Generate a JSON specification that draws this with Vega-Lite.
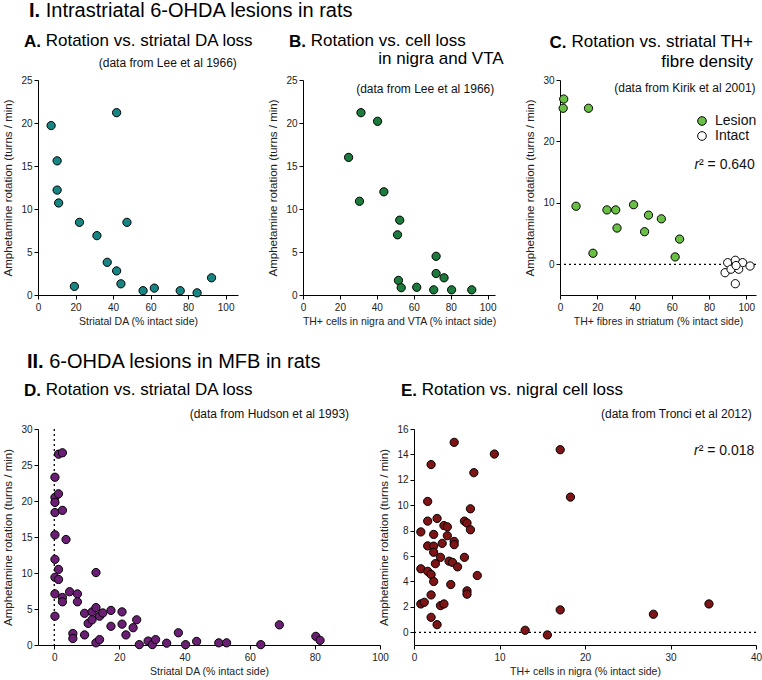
{
"$schema": "https://vega.github.io/schema/vega-lite/v6.json",
"padding": {"left": 2, "top": 0, "right": 2, "bottom": 2},
"background": "white",
"spacing": 24,
"config": {
 "font": "Liberation Sans",
 "view": {"stroke": null},
 "title": {"font": "Liberation Sans", "fontWeight": "normal", "color": "#000", "anchor": "start", "frame": "group"},
 "axis": {"domainColor": "#000", "tickColor": "#000", "tickSize": 4, "labelFontSize": 10, "labelColor": "#222", "titleColor": "#222", "titleFontWeight": "normal", "grid": false, "labelPadding": 2, "titlePadding": 4, "labelFont": "Liberation Sans", "titleFont": "Liberation Sans", "labelOverlap": false, "labelFlush": false},
 "axisX": {"titleFontSize": 10.5, "labelPadding": 3},
 "axisY": {"titleFontSize": 11.5, "titlePadding": 7},
 "text": {"font": "Liberation Sans", "color": "#111"}
},
"vconcat": [
 {
  "title": {"text": "Intrastriatal 6-OHDA lesions in rats", "fontSize": 20, "dx": 7.7, "offset": -20},
  "bounds": "flush",
  "spacing": 65,
  "resolve": {"legend": {"fill": "independent"}},
  "hconcat": [
   {
    "width": 200, "height": 215,
    "title": {"text": "Rotation vs. striatal DA loss", "fontSize": 17, "dx": 7.7, "offset": -49.4},
    "layer": [
     {
      "data": {"values": [
       {"x": 7, "y": 19.7}, {"x": 10.2, "y": 15.6}, {"x": 10.2, "y": 12.2}, {"x": 11, "y": 10.7},
       {"x": 22.1, "y": 8.45}, {"x": 31.4, "y": 6.9}, {"x": 36.9, "y": 3.8}, {"x": 41.9, "y": 21.2},
       {"x": 41.9, "y": 2.8}, {"x": 44.2, "y": 1.3}, {"x": 47.4, "y": 8.45}, {"x": 19.4, "y": 1.0},
       {"x": 56, "y": 0.5}, {"x": 62, "y": 0.8}, {"x": 75.8, "y": 0.5}, {"x": 84.8, "y": 0.25}, {"x": 92.5, "y": 2.0}
      ]},
      "mark": {"type": "circle", "size": 68, "fill": "#178583", "stroke": "#000", "strokeWidth": 1, "opacity": 1},
      "encoding": {
       "x": {"field": "x", "type": "quantitative", "scale": {"domain": [0, 106.6], "nice": false, "zero": false}, "axis": {"title": "Striatal DA (% intact side)", "values": [0, 20, 40, 60, 80, 100], "labelOverlap": false}},
       "y": {"field": "y", "type": "quantitative", "scale": {"domain": [0, 25], "nice": false}, "axis": {"title": "Amphetamine rotation (turns / min)", "values": [0, 5, 10, 15, 20, 25], "labelOverlap": false}}
      }
     },
     {
      "data": {"values": [{}]},
      "mark": {"type": "text", "text": "(data from Lee et al 1966)", "fontSize": 12, "align": "right", "baseline": "middle"},
      "encoding": {
       "x": {"datum": 106, "type": "quantitative", "axis": {"title": "Striatal DA (% intact side)", "values": [0, 20, 40, 60, 80, 100], "labelOverlap": false}},
       "y": {"datum": 27, "type": "quantitative", "axis": {"title": "Amphetamine rotation (turns / min)", "values": [0, 5, 10, 15, 20, 25], "labelOverlap": false}}
      }
     },
     {
      "data": {"values": [{}]},
      "mark": {"type": "text", "text": "I.", "fontSize": 20, "fontWeight": "bold", "align": "left", "baseline": "alphabetic", "color": "#000"},
      "encoding": {
       "x": {"datum": -4.8, "type": "quantitative", "axis": {"title": "Striatal DA (% intact side)", "values": [0, 20, 40, 60, 80, 100], "labelOverlap": false}},
       "y": {"datum": 32.33, "type": "quantitative", "axis": {"title": "Amphetamine rotation (turns / min)", "values": [0, 5, 10, 15, 20, 25], "labelOverlap": false}}
      }
     },
     {
      "data": {"values": [{}]},
      "mark": {"type": "text", "text": "A.", "fontSize": 17, "fontWeight": "bold", "align": "left", "baseline": "alphabetic", "color": "#000"},
      "encoding": {
       "x": {"datum": -7.46, "type": "quantitative", "axis": {"title": "Striatal DA (% intact side)", "values": [0, 20, 40, 60, 80, 100], "labelOverlap": false}},
       "y": {"datum": 28.84, "type": "quantitative", "axis": {"title": "Amphetamine rotation (turns / min)", "values": [0, 5, 10, 15, 20, 25], "labelOverlap": false}}
      }
     }
    ]
   },
   {
    "width": 192, "height": 215,
    "title": {"text": "Rotation vs. cell loss", "fontSize": 17, "dx": 7.7, "offset": -17},
    "layer": [
     {
      "data": {"values": [
       {"x": 31.4, "y": 21.2}, {"x": 40.4, "y": 20.2}, {"x": 24.7, "y": 16}, {"x": 30.6, "y": 10.9},
       {"x": 43.8, "y": 12}, {"x": 52.4, "y": 8.7}, {"x": 51.2, "y": 7}, {"x": 72.1, "y": 4.5},
       {"x": 72.1, "y": 2.5}, {"x": 76.4, "y": 2}, {"x": 51.7, "y": 1.7}, {"x": 53.2, "y": 0.85},
       {"x": 61.6, "y": 0.9}, {"x": 70.8, "y": 0.6}, {"x": 80.5, "y": 0.6}, {"x": 91.4, "y": 0.6}
      ]},
      "mark": {"type": "circle", "size": 68, "fill": "#1b7a3c", "stroke": "#000", "strokeWidth": 1, "opacity": 1},
      "encoding": {
       "x": {"field": "x", "type": "quantitative", "scale": {"domain": [0, 104], "nice": false, "zero": false}, "axis": {"title": "TH+ cells in nigra and VTA (% intact side)", "values": [0, 20, 40, 60, 80, 100], "labelOverlap": false}},
       "y": {"field": "y", "type": "quantitative", "scale": {"domain": [0, 25], "nice": false}, "axis": {"title": "Amphetamine rotation (turns / min)", "values": [0, 5, 10, 15, 20, 25], "labelOverlap": false}}
      }
     },
     {
      "data": {"values": [{}]},
      "mark": {"type": "text", "text": "in nigra and VTA", "fontSize": 17, "align": "right", "baseline": "middle", "color": "#000"},
      "encoding": {
       "x": {"datum": 108.7, "type": "quantitative", "axis": {"title": "TH+ cells in nigra and VTA (% intact side)", "values": [0, 20, 40, 60, 80, 100], "labelOverlap": false}},
       "y": {"datum": 27.5, "type": "quantitative", "axis": {"title": "Amphetamine rotation (turns / min)", "values": [0, 5, 10, 15, 20, 25], "labelOverlap": false}}
      }
     },
     {
      "data": {"values": [{}]},
      "mark": {"type": "text", "text": "(data from Lee et al 1966)", "fontSize": 12, "align": "right", "baseline": "middle"},
      "encoding": {
       "x": {"datum": 103.6, "type": "quantitative", "axis": {"title": "TH+ cells in nigra and VTA (% intact side)", "values": [0, 20, 40, 60, 80, 100], "labelOverlap": false}},
       "y": {"datum": 23.9, "type": "quantitative", "axis": {"title": "Amphetamine rotation (turns / min)", "values": [0, 5, 10, 15, 20, 25], "labelOverlap": false}}
      }
     },
     {
      "data": {"values": [{}]},
      "mark": {"type": "text", "text": "B.", "fontSize": 17, "fontWeight": "bold", "align": "left", "baseline": "alphabetic", "color": "#000"},
      "encoding": {
       "x": {"datum": -7.58, "type": "quantitative", "axis": {"title": "TH+ cells in nigra and VTA (% intact side)", "values": [0, 20, 40, 60, 80, 100], "labelOverlap": false}},
       "y": {"datum": 28.84, "type": "quantitative", "axis": {"title": "Amphetamine rotation (turns / min)", "values": [0, 5, 10, 15, 20, 25], "labelOverlap": false}}
      }
     }
    ]
   },
   {
    "width": 196, "height": 215,
    "title": {"text": ["Rotation vs. striatal TH+", "fibre density"], "fontSize": 17, "anchor": "end", "align": "right", "lineHeight": 20, "dx": -3, "offset": -37.7},
    "layer": [
     {
      "data": {"values": [{}]},
      "mark": {"type": "rule", "strokeDash": [2, 3], "color": "#000", "strokeWidth": 1.3},
      "encoding": {
       "y": {"datum": 0, "type": "quantitative", "axis": {"title": "Amphetamine rotation (turns / min)", "values": [0, 10, 20, 30], "labelOverlap": false}}
      }
     },
     {
      "data": {"values": [
       {"x": 2, "y": 26.9, "group": "Lesion"}, {"x": 1.7, "y": 25.4, "group": "Lesion"}, {"x": 15.3, "y": 25.4, "group": "Lesion"},
       {"x": 8.6, "y": 9.45, "group": "Lesion"}, {"x": 17.7, "y": 1.8, "group": "Lesion"}, {"x": 25.2, "y": 8.85, "group": "Lesion"},
       {"x": 29.9, "y": 8.85, "group": "Lesion"}, {"x": 30.6, "y": 5.9, "group": "Lesion"}, {"x": 39.5, "y": 9.7, "group": "Lesion"},
       {"x": 47.5, "y": 8, "group": "Lesion"}, {"x": 45.4, "y": 5.3, "group": "Lesion"}, {"x": 54.4, "y": 7.4, "group": "Lesion"},
       {"x": 64.2, "y": 4.1, "group": "Lesion"}, {"x": 61.8, "y": 1.2, "group": "Lesion"},
       {"x": 90, "y": 0.26, "group": "Intact"}, {"x": 94.1, "y": 0.65, "group": "Intact"}, {"x": 98, "y": 0.26, "group": "Intact"},
       {"x": 102, "y": -0.28, "group": "Intact"}, {"x": 88.6, "y": -1.37, "group": "Intact"}, {"x": 91.8, "y": -0.8, "group": "Intact"},
       {"x": 95.9, "y": -0.8, "group": "Intact"}, {"x": 94.1, "y": -3.16, "group": "Intact"}, {"x": 94.5, "y": -0.2, "group": "Intact"}
      ]},
      "mark": {"type": "circle", "size": 68, "stroke": "#000", "strokeWidth": 1, "opacity": 1},
      "encoding": {
       "x": {"field": "x", "type": "quantitative", "scale": {"domain": [0, 105.2], "nice": false, "zero": false}, "axis": {"title": "TH+ fibres in striatum (% intact side)", "values": [0, 20, 40, 60, 80, 100], "labelOverlap": false}},
       "y": {"field": "y", "type": "quantitative", "scale": {"domain": [-5, 30], "nice": false, "zero": false}, "axis": {"title": "Amphetamine rotation (turns / min)", "values": [0, 10, 20, 30], "labelOverlap": false}},
       "fill": {"field": "group", "type": "nominal", "scale": {"domain": ["Lesion", "Intact"], "range": ["#6abf45", "#ffffff"]},
        "legend": {"title": null, "orient": "none", "legendX": 135, "legendY": 34, "labelFontSize": 14, "labelColor": "#111", "labelFont": "Liberation Sans", "symbolType": "circle", "symbolSize": 75, "symbolStrokeColor": "#000", "symbolStrokeWidth": 1, "symbolOpacity": 1, "rowPadding": 1, "labelOffset": 6}}
      }
     },
     {
      "data": {"values": [{}]},
      "mark": {"type": "text", "text": "(data from Kirik et al 2001)", "fontSize": 12, "align": "right", "baseline": "middle"},
      "encoding": {
       "x": {"datum": 105, "type": "quantitative", "axis": {"title": "TH+ fibres in striatum (% intact side)", "values": [0, 20, 40, 60, 80, 100], "labelOverlap": false}},
       "y": {"datum": 28.7, "type": "quantitative", "axis": {"title": "Amphetamine rotation (turns / min)", "values": [0, 10, 20, 30], "labelOverlap": false}}
      }
     },
     {
      "data": {"values": [{}]},
      "mark": {"type": "text", "text": "² = 0.640", "fontSize": 14, "align": "right", "baseline": "middle"},
      "encoding": {
       "x": {"datum": 104.5, "type": "quantitative", "axis": {"title": "TH+ fibres in striatum (% intact side)", "values": [0, 20, 40, 60, 80, 100], "labelOverlap": false}},
       "y": {"datum": 16.2, "type": "quantitative", "axis": {"title": "Amphetamine rotation (turns / min)", "values": [0, 10, 20, 30], "labelOverlap": false}}
      }
     },
     {
      "data": {"values": [{}]},
      "mark": {"type": "text", "text": "r", "fontSize": 14, "fontStyle": "italic", "align": "right", "baseline": "middle", "dx": -55.5},
      "encoding": {
       "x": {"datum": 104.5, "type": "quantitative", "axis": {"title": "TH+ fibres in striatum (% intact side)", "values": [0, 20, 40, 60, 80, 100], "labelOverlap": false}},
       "y": {"datum": 16.2, "type": "quantitative", "axis": {"title": "Amphetamine rotation (turns / min)", "values": [0, 10, 20, 30], "labelOverlap": false}}
      }
     },
     {
      "data": {"values": [{}]},
      "mark": {"type": "text", "text": "C.", "fontSize": 17, "fontWeight": "bold", "align": "left", "baseline": "alphabetic", "color": "#000"},
      "encoding": {
       "x": {"datum": -5.7, "type": "quantitative", "axis": {"title": "TH+ fibres in striatum (% intact side)", "values": [0, 20, 40, 60, 80, 100], "labelOverlap": false}},
       "y": {"datum": 35.27, "type": "quantitative", "axis": {"title": "Amphetamine rotation (turns / min)", "values": [0, 10, 20, 30], "labelOverlap": false}}
      }
     }
    ]
   }
  ]
 },
 {
  "title": {"text": "6-OHDA lesions in MFB in rats", "fontSize": 20, "dx": 11.2, "offset": -20},
  "bounds": "flush",
  "spacing": 34,
  "hconcat": [
   {
    "width": 342, "height": 216,
    "title": {"text": "Rotation vs. striatal DA loss", "fontSize": 17, "dx": 7.7, "offset": -47.4},
    "layer": [
     {
      "data": {"values": [{}]},
      "mark": {"type": "rule", "strokeDash": [2, 3], "color": "#000", "strokeWidth": 1.3},
      "encoding": {
       "x": {"datum": 0, "type": "quantitative", "axis": {"title": "Striatal DA (% intact side)", "values": [0, 20, 40, 60, 80, 100], "labelOverlap": false}}
      }
     },
     {
      "data": {"values": [
       {"x": 1.3, "y": 26.5}, {"x": 2.5, "y": 26.7}, {"x": 0.2, "y": 23.3}, {"x": 0.2, "y": 20.5}, {"x": 0.2, "y": 19.8},
       {"x": 1.3, "y": 21.0}, {"x": 0.2, "y": 18.4}, {"x": 2.5, "y": 18.7}, {"x": 0.2, "y": 15.3}, {"x": 3.6, "y": 14.65},
       {"x": 0.2, "y": 11.9}, {"x": 1.3, "y": 10.5}, {"x": 0.2, "y": 9.4}, {"x": 1.3, "y": 9.1}, {"x": 12.8, "y": 10.06},
       {"x": 0.2, "y": 7.1}, {"x": 4.7, "y": 7.4}, {"x": 2.5, "y": 6.6}, {"x": 2.5, "y": 6.0}, {"x": 7.1, "y": 7.1},
       {"x": 7.1, "y": 6.0}, {"x": 0.2, "y": 4.0}, {"x": 9.3, "y": 4.4}, {"x": 11.6, "y": 4.6}, {"x": 12.8, "y": 5.2},
       {"x": 10.4, "y": 3.0}, {"x": 11.6, "y": 3.5}, {"x": 13.9, "y": 4.0}, {"x": 14.9, "y": 4.45}, {"x": 17.4, "y": 4.8},
       {"x": 20.8, "y": 4.6}, {"x": 17.4, "y": 2.6}, {"x": 20.8, "y": 2.9}, {"x": 24.2, "y": 2.4}, {"x": 25.3, "y": 3.5},
       {"x": 22.0, "y": 1.4}, {"x": 5.7, "y": 1.6}, {"x": 5.7, "y": 0.9}, {"x": 9.3, "y": 1.4}, {"x": 12.8, "y": 0.3},
       {"x": 13.9, "y": 0.75}, {"x": 26.1, "y": 0.05}, {"x": 28.8, "y": 0.55}, {"x": 30.1, "y": 0.05}, {"x": 31.1, "y": 0.75},
       {"x": 34.5, "y": 0.25}, {"x": 38.1, "y": 1.7}, {"x": 40.3, "y": 0.05}, {"x": 43.7, "y": 0.5}, {"x": 50.5, "y": 0.3},
       {"x": 52.9, "y": 0.3}, {"x": 63.4, "y": 0.05}, {"x": 69.1, "y": 2.8}, {"x": 80.3, "y": 1.2}, {"x": 81.6, "y": 0.65}
      ]},
      "mark": {"type": "circle", "size": 68, "fill": "#6b1f74", "stroke": "#000", "strokeWidth": 1, "opacity": 1},
      "encoding": {
       "x": {"field": "x", "type": "quantitative", "scale": {"domain": [-5, 100], "nice": false, "zero": false}, "axis": {"title": "Striatal DA (% intact side)", "values": [0, 20, 40, 60, 80, 100], "labelOverlap": false}},
       "y": {"field": "y", "type": "quantitative", "scale": {"domain": [0, 30], "nice": false}, "axis": {"title": "Amphetamine rotation (turns / min)", "values": [0, 5, 10, 15, 20, 25, 30], "labelOverlap": false}}
      }
     },
     {
      "data": {"values": [{}]},
      "mark": {"type": "text", "text": "(data from Hudson et al 1993)", "fontSize": 12, "align": "right", "baseline": "middle"},
      "encoding": {
       "x": {"datum": 90.5, "type": "quantitative", "axis": {"title": "Striatal DA (% intact side)", "values": [0, 20, 40, 60, 80, 100], "labelOverlap": false}},
       "y": {"datum": 32.1, "type": "quantitative", "axis": {"title": "Amphetamine rotation (turns / min)", "values": [0, 5, 10, 15, 20, 25, 30], "labelOverlap": false}}
      }
     },
     {
      "data": {"values": [{}]},
      "mark": {"type": "text", "text": "II.", "fontSize": 20, "fontWeight": "bold", "align": "left", "baseline": "alphabetic", "color": "#000"},
      "encoding": {
       "x": {"datum": -8.38, "type": "quantitative", "axis": {"title": "Striatal DA (% intact side)", "values": [0, 20, 40, 60, 80, 100], "labelOverlap": false}},
       "y": {"datum": 38.48, "type": "quantitative", "axis": {"title": "Amphetamine rotation (turns / min)", "values": [0, 5, 10, 15, 20, 25, 30], "labelOverlap": false}}
      }
     },
     {
      "data": {"values": [{}]},
      "mark": {"type": "text", "text": "D.", "fontSize": 17, "fontWeight": "bold", "align": "left", "baseline": "alphabetic", "color": "#000"},
      "encoding": {
       "x": {"datum": -9.3, "type": "quantitative", "axis": {"title": "Striatal DA (% intact side)", "values": [0, 20, 40, 60, 80, 100], "labelOverlap": false}},
       "y": {"datum": 34.59, "type": "quantitative", "axis": {"title": "Amphetamine rotation (turns / min)", "values": [0, 5, 10, 15, 20, 25, 30], "labelOverlap": false}}
      }
     }
    ]
   },
   {
    "width": 342, "height": 216,
    "title": {"text": "Rotation vs. nigral cell loss", "fontSize": 17, "dx": 7.8, "offset": -17},
    "layer": [
     {
      "data": {"values": [{}]},
      "mark": {"type": "rule", "strokeDash": [2, 3], "color": "#000", "strokeWidth": 1.3},
      "encoding": {
       "y": {"datum": 0, "type": "quantitative", "axis": {"title": "Amphetamine rotation (turns / min)", "values": [0, 2, 4, 6, 8, 10, 12, 14, 16], "labelOverlap": false}}
      }
     },
     {
      "data": {"values": [
       {"x": 4.7, "y": 14.95}, {"x": 9.4, "y": 14.03}, {"x": 17.1, "y": 14.37}, {"x": 2.0, "y": 13.2}, {"x": 7.0, "y": 12.56},
       {"x": 1.6, "y": 10.3}, {"x": 18.3, "y": 10.64}, {"x": 6.6, "y": 9.72}, {"x": 1.6, "y": 8.75}, {"x": 2.7, "y": 8.96},
       {"x": 0.8, "y": 7.9}, {"x": 2.3, "y": 7.7}, {"x": 3.5, "y": 8.4}, {"x": 3.9, "y": 8.3}, {"x": 5.9, "y": 8.75},
       {"x": 6.2, "y": 8.6}, {"x": 6.6, "y": 8.07}, {"x": 3.9, "y": 7.6}, {"x": 3.3, "y": 7.0}, {"x": 4.7, "y": 7.15},
       {"x": 4.7, "y": 6.9}, {"x": 1.6, "y": 6.8}, {"x": 2.3, "y": 6.78}, {"x": 2.3, "y": 6.3}, {"x": 3.1, "y": 5.9},
       {"x": 5.9, "y": 5.9}, {"x": 4.1, "y": 5.6}, {"x": 4.5, "y": 5.5}, {"x": 2.5, "y": 5.4}, {"x": 5.1, "y": 5.15},
       {"x": 0.8, "y": 5.0}, {"x": 1.6, "y": 4.8}, {"x": 2.0, "y": 4.55}, {"x": 7.4, "y": 4.47}, {"x": 2.3, "y": 4.0},
       {"x": 4.3, "y": 3.76}, {"x": 6.2, "y": 3.26}, {"x": 6.2, "y": 3.0}, {"x": 2.0, "y": 2.94}, {"x": 0.8, "y": 2.23},
       {"x": 1.2, "y": 2.36}, {"x": 3.1, "y": 2.1}, {"x": 3.5, "y": 2.23}, {"x": 2.0, "y": 1.18}, {"x": 2.7, "y": 0.6},
       {"x": 17.1, "y": 1.76}, {"x": 28.0, "y": 1.42}, {"x": 34.5, "y": 2.23}, {"x": 13.0, "y": 0.16}, {"x": 15.6, "y": -0.21}
      ]},
      "mark": {"type": "circle", "size": 68, "fill": "#7d1416", "stroke": "#000", "strokeWidth": 1, "opacity": 1},
      "encoding": {
       "x": {"field": "x", "type": "quantitative", "scale": {"domain": [0, 40], "nice": false, "zero": false}, "axis": {"title": "TH+ cells in nigra (% intact side)", "values": [0, 10, 20, 30, 40], "labelOverlap": false}},
       "y": {"field": "y", "type": "quantitative", "scale": {"domain": [-1, 16], "nice": false, "zero": false}, "axis": {"title": "Amphetamine rotation (turns / min)", "values": [0, 2, 4, 6, 8, 10, 12, 14, 16], "labelOverlap": false}}
      }
     },
     {
      "data": {"values": [{}]},
      "mark": {"type": "text", "text": "(data from Tronci et al 2012)", "fontSize": 12, "align": "right", "baseline": "middle"},
      "encoding": {
       "x": {"datum": 39.5, "type": "quantitative", "axis": {"title": "TH+ cells in nigra (% intact side)", "values": [0, 10, 20, 30, 40], "labelOverlap": false}},
       "y": {"datum": 17.2, "type": "quantitative", "axis": {"title": "Amphetamine rotation (turns / min)", "values": [0, 2, 4, 6, 8, 10, 12, 14, 16], "labelOverlap": false}}
      }
     },
     {
      "data": {"values": [{}]},
      "mark": {"type": "text", "text": "² = 0.018", "fontSize": 14, "align": "right", "baseline": "middle"},
      "encoding": {
       "x": {"datum": 39.8, "type": "quantitative", "axis": {"title": "TH+ cells in nigra (% intact side)", "values": [0, 10, 20, 30, 40], "labelOverlap": false}},
       "y": {"datum": 14.26, "type": "quantitative", "axis": {"title": "Amphetamine rotation (turns / min)", "values": [0, 2, 4, 6, 8, 10, 12, 14, 16], "labelOverlap": false}}
      }
     },
     {
      "data": {"values": [{}]},
      "mark": {"type": "text", "text": "r", "fontSize": 14, "fontStyle": "italic", "align": "right", "baseline": "middle", "dx": -55.5},
      "encoding": {
       "x": {"datum": 39.8, "type": "quantitative", "axis": {"title": "TH+ cells in nigra (% intact side)", "values": [0, 10, 20, 30, 40], "labelOverlap": false}},
       "y": {"datum": 14.26, "type": "quantitative", "axis": {"title": "Amphetamine rotation (turns / min)", "values": [0, 2, 4, 6, 8, 10, 12, 14, 16], "labelOverlap": false}}
      }
     },
     {
      "data": {"values": [{}]},
      "mark": {"type": "text", "text": "E.", "fontSize": 17, "fontWeight": "bold", "align": "left", "baseline": "alphabetic", "color": "#000"},
      "encoding": {
       "x": {"datum": -1.52, "type": "quantitative", "axis": {"title": "TH+ cells in nigra (% intact side)", "values": [0, 10, 20, 30, 40], "labelOverlap": false}},
       "y": {"datum": 18.6, "type": "quantitative", "axis": {"title": "Amphetamine rotation (turns / min)", "values": [0, 2, 4, 6, 8, 10, 12, 14, 16], "labelOverlap": false}}
      }
     }
    ]
   }
  ]
 }
]
}
